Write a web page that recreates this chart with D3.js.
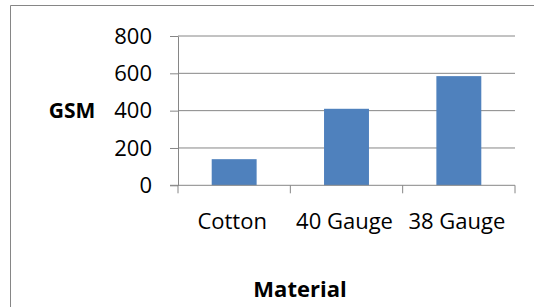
<!DOCTYPE html>
<html lang="en">
<head>
    <meta charset="UTF-8">
    <title>GSM by Material</title>
    <script src="https://cdnjs.cloudflare.com/ajax/libs/d3/7.8.5/d3.min.js"></script>
    <style>
        body { margin: 0; background: #fff; }
        svg { display: block; font-family: 'Open Sans', sans-serif; }
    </style>
</head>
<body>
    <svg id="chart" width="534" height="307"></svg>
    <script>
        // data
        const materials = ['Cotton', '40 Gauge', '38 Gauge'];
        const gsm = [140, 410, 585];
        const yTicks = [0, 200, 400, 600, 800];

        const svg = d3.select('#chart');
        const grey = '#868686';
        const plotLeft = 178, plotRight = 515, plotTop = 36, plotBottom = 185.3;

        // chart frame (cropped on the right and bottom)
        svg.append('path')
            .attr('d', 'M10.5,307 V5.5 H534')
            .attr('fill', 'none')
            .attr('stroke', grey)
            .attr('stroke-width', 1);

        const x = d3.scaleBand().domain(materials).range([plotLeft, plotRight])
            .paddingInner(0.6).paddingOuter(0.3);
        const y = d3.scaleLinear().domain([0, 800]).range([plotBottom, plotTop]);

        // gridlines
        svg.append('g').selectAll('line').data(yTicks.slice(1)).enter().append('line')
            .attr('x1', plotLeft).attr('x2', plotRight)
            .attr('y1', d => y(d)).attr('y2', d => y(d))
            .attr('stroke', grey).attr('stroke-width', 1);

        // bars
        svg.append('g').selectAll('rect').data(gsm).enter().append('rect')
            .attr('x', (d, i) => x(materials[i]))
            .attr('y', d => y(d))
            .attr('width', x.bandwidth())
            .attr('height', d => y(0) - y(d))
            .attr('fill', '#4f81bd');

        // y axis
        const yAxis = svg.append('g')
            .attr('transform', `translate(${plotLeft},0)`)
            .call(d3.axisLeft(y).tickValues(yTicks).tickSize(8).tickPadding(18).tickSizeOuter(0));
        yAxis.select('.domain').attr('stroke', grey);
        yAxis.selectAll('.tick line').attr('stroke', grey);
        yAxis.selectAll('.tick text')
            .attr('font-size', 22).attr('fill', '#000')
            .attr('font-family', "'Open Sans', sans-serif");

        // x axis line and ticks between categories
        const step = x.step();
        const bounds = materials.map(c => x(c) - step * 0.3).concat([plotRight]);
        svg.append('line')
            .attr('x1', plotLeft - 8).attr('x2', plotRight)
            .attr('y1', y(0)).attr('y2', y(0))
            .attr('stroke', grey);
        svg.append('g').selectAll('line').data(bounds).enter().append('line')
            .attr('x1', d => d).attr('x2', d => d)
            .attr('y1', y(0)).attr('y2', y(0) + 8)
            .attr('stroke', grey);

        // category labels
        svg.append('g').selectAll('text').data(materials).enter().append('text')
            .attr('x', d => x(d) + x.bandwidth() / 2 - 2)
            .attr('y', y(0) + 44)
            .attr('text-anchor', 'middle')
            .attr('font-size', 22)
            .attr('fill', '#000')
            .text(d => d);

        // axis titles
        svg.append('text')
            .attr('x', 72).attr('y', 118)
            .attr('text-anchor', 'middle')
            .attr('font-size', 21).attr('font-weight', 'bold')
            .text('GSM');
        svg.append('text')
            .attr('x', 300).attr('y', 297)
            .attr('text-anchor', 'middle')
            .attr('font-size', 22).attr('font-weight', 'bold')
            .text('Material');
    </script>
</body>
</html>
